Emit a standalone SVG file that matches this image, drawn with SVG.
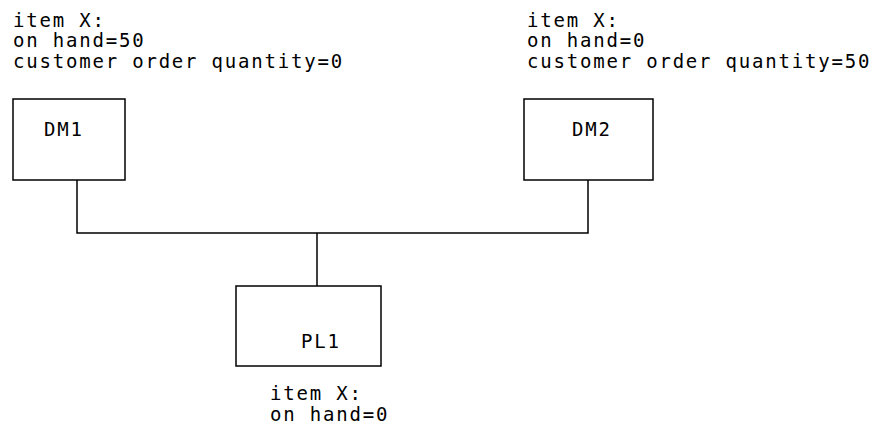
<svg xmlns="http://www.w3.org/2000/svg" width="879" height="431" viewBox="0 0 879 431">
<style>
text{font-family:"DejaVu Sans Mono","Liberation Mono",monospace;font-size:19px;letter-spacing:1.8px;fill:#000}
.box{fill:#fff;stroke:#000;stroke-width:1.5}
.conn{fill:none;stroke:#000;stroke-width:1.5}
</style>
<rect width="879" height="431" fill="#fff"/>
<g id="label-dm1">
<text x="13" y="27">item X:</text>
<text x="13" y="47">on hand=50</text>
<text x="13" y="68">customer order quantity=0</text>
</g>
<g id="label-dm2">
<text x="527" y="27">item X:</text>
<text x="527" y="47">on hand=0</text>
<text x="527" y="68">customer order quantity=50</text>
</g>
<g id="connectors">
<path class="conn" d="M77 180V233H588V180M317 233V286"/>
</g>
<g id="DM1">
<rect class="box" x="13" y="99" width="112" height="81"/>
<text x="44" y="136">DM1</text>
</g>
<g id="DM2">
<rect class="box" x="524" y="99" width="129" height="81"/>
<text x="572" y="136">DM2</text>
</g>
<g id="PL1">
<rect class="box" x="236" y="286" width="145" height="80"/>
<text x="301" y="348">PL1</text>
</g>
<g id="label-pl1">
<text x="270" y="400">item X:</text>
<text x="270" y="421">on hand=0</text>
</g>
</svg>
